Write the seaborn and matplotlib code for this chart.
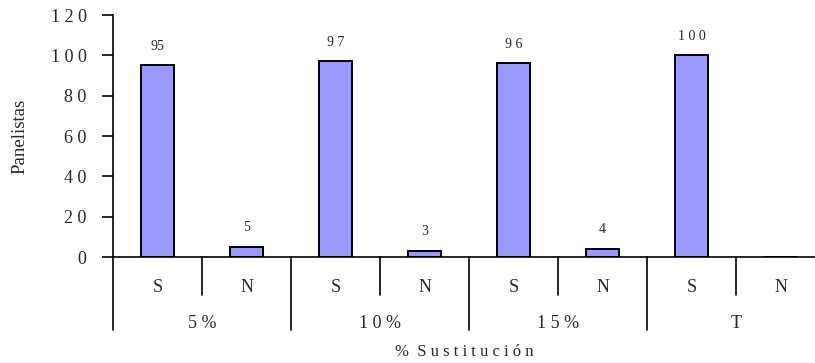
import matplotlib
matplotlib.use("Agg")
import matplotlib.pyplot as plt
import matplotlib.transforms as mtransforms
import seaborn as sns
import pandas as pd

# Responses per substitution level
groups = ["5 %", "1 0 %", "1 5 %", "T"]
answers = ["S", "N"]
values = [95, 5, 97, 3, 96, 4, 100, 0]
value_labels = ["95", "5", "9 7", "3", "9 6", "4", "1 0 0", ""]
y_ticks = [0, 20, 40, 60, 80, 100, 120]

cats = [f"{g}|{a}" for g in groups for a in answers]
df = pd.DataFrame({"cat": cats, "value": values})

sns.set_theme(style="white")
plt.rcParams["font.family"] = ["Liberation Serif", "DejaVu Serif"]

fig = plt.figure(figsize=(8.15, 3.63), dpi=100)
ax = fig.add_axes([113 / 815, 1 - 257 / 363, 1 - 113 / 815, (257 - 15) / 363])

sns.barplot(data=df, x="cat", y="value", order=cats, color="#9999FF",
            saturation=1, width=0.38, edgecolor="black", linewidth=1.4, ax=ax)

ax.set_ylim(0, 120)
ax.set_xlim(-0.5, -0.5 + (815 - 113) / 89)
ax.set_yticks(y_ticks)
ax.set_yticklabels([" ".join(str(t)) for t in y_ticks], fontsize=13)
ax.tick_params(axis="y", left=True, direction="out", length=8, width=1.2,
               color="black", pad=11)
ax.set_xticks([])
ax.set_xlabel("")
ax.set_ylabel("Panelistas", fontsize=13.5, labelpad=16)

for s in ["top", "right"]:
    ax.spines[s].set_visible(False)
for s in ["left", "bottom"]:
    ax.spines[s].set_color("black")
    ax.spines[s].set_linewidth(1.2)

# value labels above bars
for i, (v, lab) in enumerate(zip(values, value_labels)):
    if lab:
        ax.annotate(lab, (i, v), xytext=(0, 9), textcoords="offset points",
                    ha="center", va="bottom", fontsize=10)

# two-level category axis drawn below the plot
trans = mtransforms.blended_transform_factory(ax.transData, ax.transAxes)
px = 1 / (257 - 15)
for i in range(len(cats) + 1):
    x = i - 0.5
    depth = 73 if i % 2 == 0 else 38
    ax.plot([x, x], [0, -depth * px], transform=trans, color="black",
            lw=1.2, clip_on=False)
for i, c in enumerate(cats):
    ax.text(i, -31 * px, c.split("|")[1], transform=trans, ha="center",
            va="center", fontsize=13)
for j, g in enumerate(groups):
    ax.text(2 * j + 0.5, -67 * px, g, transform=trans, ha="center",
            va="center", fontsize=13)

fig.text((113 + 815) / 2 / 815, 1 - 352 / 363, "%  S u s t i t u c i ó n",
         ha="center", va="center", fontsize=12)

fig.savefig("out.png", dpi=100)
